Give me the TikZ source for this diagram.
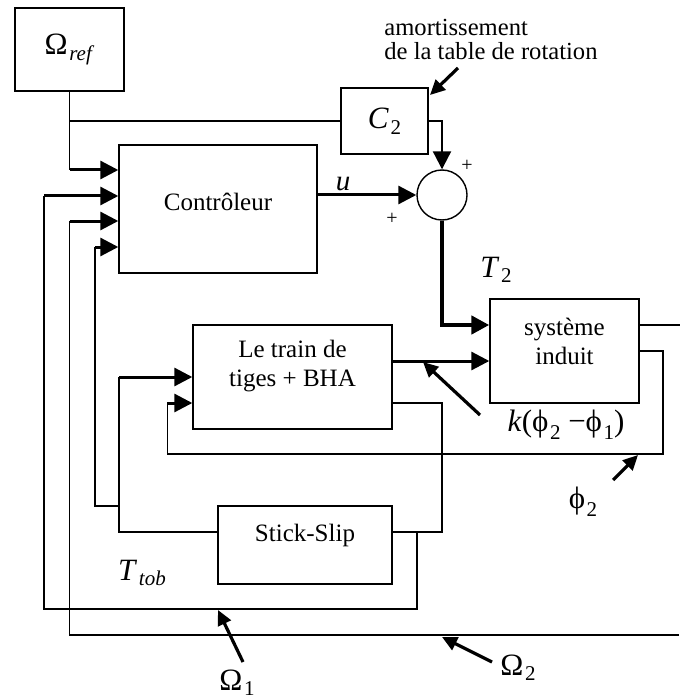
\documentclass[tikz,border=0pt]{standalone}
\usepackage{fontspec}
\setmainfont{Liberation Serif}
\usetikzlibrary{arrows.meta,calc}
\newcommand{\lowidx}[1]{\kern0.8pt\raisebox{-0.55ex}{\fontsize{10.5}{10.5}\selectfont #1}}
\newcommand{\symb}[2]{{\fontsize{15.5}{15.5}\selectfont #1}\lowidx{#2}}
\tikzset{
  blk/.style={draw, line width=0.7pt, fill=white, inner sep=0pt,
              font=\fontsize{12.5}{14}\selectfont},
  txt/.style={align=center, inner sep=0pt, font=\fontsize{12.5}{14.5}\selectfont},
  ln/.style={line width=0.7pt},
  arr/.style={line width=1.5pt, -{Triangle[length=9pt,width=9pt]}},
  arrT/.style={line width=2.3pt, -{Triangle[length=9pt,width=9pt]}},
  ptr/.style={line width=1.6pt, -{Triangle[length=7.5pt,width=7pt]}},
  sym/.style={inner sep=0pt},
  plus/.style={inner sep=0pt, font=\fontsize{10}{10}\selectfont}
}
\begin{document}
\begin{tikzpicture}[x=0.5pt,y=-0.5pt]
\useasboundingbox (0,0) rectangle (679,700);

% blocs
\node[blk, minimum width=54.5pt, minimum height=41.5pt] (oref) at (69.5,49.5) {\symb{Ω}{\textit{ref}}};
\node[blk, minimum width=99pt, minimum height=64pt,
      label={[txt,yshift=3.5pt]center:Contrôleur}] (ctrl) at (218,209) {};
\node[blk, minimum width=43.5pt, minimum height=33pt] (cdeux) at (384.5,121) {\symb{\textit{C}}{2}};
\node[circle, draw, line width=0.7pt, fill=white, minimum size=25pt, inner sep=0pt] (sum) at (442,195) {};
\node[blk, minimum width=99.5pt, minimum height=52pt,
      label={[txt,yshift=5.5pt]center:Le train de\\tiges + BHA}] (train) at (292.5,377) {};
\node[blk, minimum width=74.5pt, minimum height=52pt,
      label={[txt,yshift=5pt]center:système\\induit}] (sys) at (564.5,351) {};
\node[blk, minimum width=87pt, minimum height=39pt,
      label={[txt,yshift=5pt]center:Stick-Slip}] (stick) at (305,545) {};

% Omega_ref
\draw[ln] (oref.south) -- (69.5,170) coordinate (a1);
\draw[arr] (a1) -- (a1 -| ctrl.west);
\draw[ln] (oref.south |- cdeux.west) -- (cdeux.west);

% C2 et u vers le sommateur
\draw[line width=1.1pt, -{Triangle[length=9pt,width=9pt]}] (cdeux.east) -| (sum.north);
\draw[arr] (ctrl.east |- sum.west) -- (sum.west);
\node[plus] at (467,166) {+};
\node[plus] at (392,219) {+};

% T2
\draw[arrT] (sum.south) |- ([yshift=13pt]sys.west);
\draw[arr] ([yshift=8pt]train.east) -- ([yshift=8pt]train.east -| sys.west);
\draw[ln] ([yshift=13pt]sys.east) -- ++(40,0);

% phi2
\draw[ln] (sys.east) -| (663,454) -| ([xshift=-12.5pt,yshift=-13pt]train.west) coordinate (b1);
\draw[arr] (b1) -- ([yshift=-13pt]train.west);

% vers Stick-Slip
\draw[ln] ([yshift=-13pt]train.east) -| (442,532) -- ([yshift=6.5pt]stick.east);
\coordinate (c1) at (417,532);
\draw[ln] (c1) |- (44,609) -- (44,196) coordinate (w1);
\draw[arr] (w1) -- (w1 -| ctrl.west);

% T_tob
\draw[ln] ([yshift=6.5pt]stick.west) -| (119,377) coordinate (t1);
\draw[arr] (t1) -- (train.west);
\draw[ln] (119,506) -| (95,247) coordinate (t2);
\draw[arr] (t2) -- (t2 -| ctrl.west);

% Omega2
\draw[ln] (679,635) -| (69.5,221) coordinate (w2);
\draw[arr] (w2) -- (w2 -| ctrl.west);

% etiquettes
\node[sym, font=\fontsize{14.5}{14.5}\selectfont] (u) at (343,184) {\textit{u}};
\node[sym] (tdeux) at (496,270) {\symb{\textit{T}}{2}};
\node[sym] (ttob) at (142,573) {\symb{\textit{T}}{\textit{tob}}};
\node[sym, anchor=west, align=left, font=\fontsize{12.3}{12}\selectfont] (amort) at (384,39)
  {amortissement\\de la table de rotation};
\node[sym, font=\fontsize{15.5}{15.5}\selectfont] (kphi) at (566,425)
  {\textit{k}(ϕ\lowidx{2} −ϕ\lowidx{1})};
\node[sym, font=\fontsize{15.5}{15.5}\selectfont] (phideux) at (583,502) {ϕ\lowidx{2}};
\node[sym] (oun) at (237,683) {\symb{Ω}{1}};
\node[sym] (odeux) at (518,668) {\symb{Ω}{2}};

% fleches d'annotation
\coordinate (p1) at (458,68);
\coordinate (p2) at (480,415);
\coordinate (p3) at (613,480);
\coordinate (p4) at (243,662);
\coordinate (p5) at (492,662);
\draw[ptr] (p1) -- (430,95);
\draw[ptr] (p2) -- (423,362);
\draw[ptr] (p3) -- (638,455);
\draw[ptr] (p4) -- (218,610);
\draw[ptr] (p5) -- (442,637);
\end{tikzpicture}
\end{document}
